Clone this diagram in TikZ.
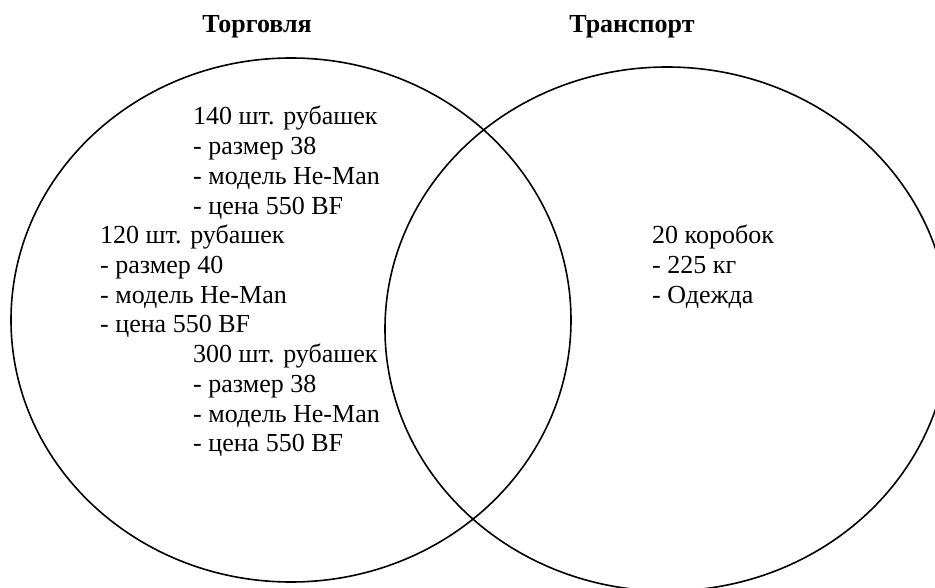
\documentclass[tikz,border=0pt]{standalone}
\usepackage{fontspec}
\setmainfont{Liberation Serif}
\begin{document}
\begin{tikzpicture}[x=1pt,y=-1pt,
  body/.style={anchor=base west,inner sep=0pt,font=\fontsize{26}{29.7}\selectfont},
  title/.style={anchor=base,inner sep=0pt,font=\fontsize{26}{30}\selectfont\bfseries},
  ring/.style={draw=black,line width=1.6pt}]
\useasboundingbox (0,0) rectangle (935,588);
\clip (0,0) rectangle (935,588);
\fill[white] (0,0) rectangle (935,588);
\draw[ring] (291,320) ellipse [x radius=280, y radius=262];
\draw[ring] (667,329) ellipse [x radius=282, y radius=262];
\node[title] (t1) at (257,33) {Торговля};
\node[title] (t2) at (632,33) {Транспорт};
% block 1
\node[body] (a1) at (193,125.0) {140 шт. рубашек};
\node[body] (a2) at (193,154.7) {- размер 38};
\node[body] (a3) at (193,184.4) {- модель He-Man};
\node[body] (a4) at (193,214.1) {- цена 550 BF};
% block 2
\node[body] (c1) at (100,243.8) {120 шт. рубашек};
\node[body] (c2) at (100,273.5) {- размер 40};
\node[body] (c3) at (100,303.2) {- модель He-Man};
\node[body] (c4) at (100,332.9) {- цена 550 BF};
% block 3
\node[body] (d1) at (193,362.6) {300 шт. рубашек};
\node[body] (d2) at (193,392.3) {- размер 38};
\node[body] (d3) at (193,422.0) {- модель He-Man};
\node[body] (d4) at (193,451.7) {- цена 550 BF};
% right block
\node[body] (e1) at (652,243.8) {20 коробок};
\node[body] (e2) at (652,273.5) {- 225 кг};
\node[body] (e3) at (652,303.2) {- Одежда};
\end{tikzpicture}
\end{document}
